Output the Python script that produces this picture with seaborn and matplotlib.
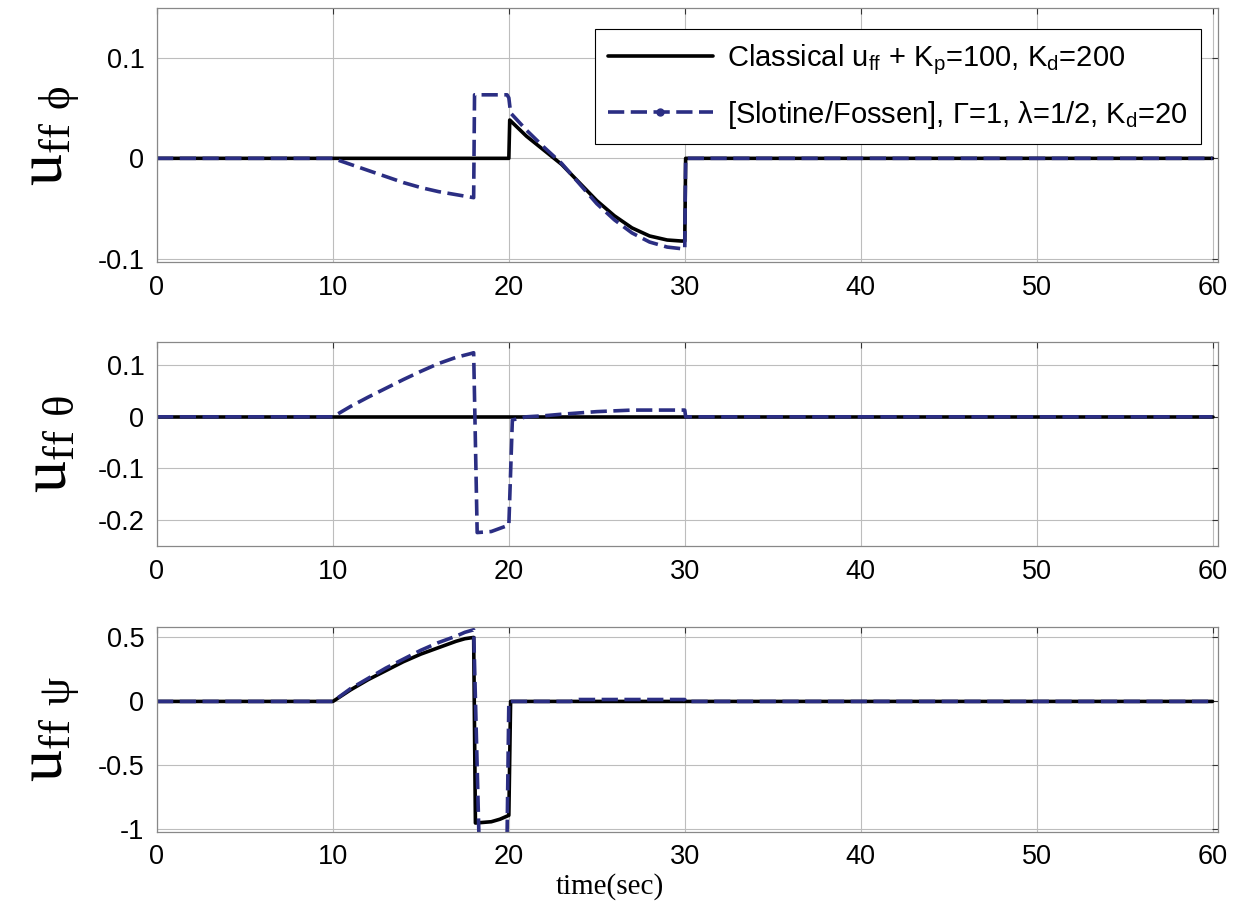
import numpy as np
import pandas as pd
import matplotlib
matplotlib.use("Agg")
import matplotlib.pyplot as plt
import seaborn as sns
from matplotlib.lines import Line2D

sns.set_style("white")
plt.rcParams['font.family'] = ['Liberation Sans', 'DejaVu Sans']
plt.rcParams['text.color'] = 'black'

# ---- data ----
# phi channel
phi_t_cl = [0, 20, 20.05, 21, 22, 23, 24, 25, 26, 27, 28, 29, 29.8, 30, 30.05, 60]
phi_cl = [0, 0, 0.038, 0.022, 0.008, -0.006, -0.024, -0.042, -0.057, -0.069, -0.077, -0.081, -0.082, -0.082, 0, 0]
phi_t_sf = [0, 10, 11, 12, 13, 14, 15, 16, 17, 18, 18.05, 19.9, 20, 20.1, 21, 22, 23, 24, 25, 26, 27, 28, 29, 30, 30.05, 60]
phi_sf = [0, 0, -0.006, -0.012, -0.018, -0.024, -0.029, -0.033, -0.036, -0.039, 0.063, 0.063, 0.06, 0.045,
          0.028, 0.011, -0.005, -0.025, -0.045, -0.061, -0.074, -0.083, -0.088, -0.09, 0, 0]

# theta channel
th_t_cl = [0, 60]
th_cl = [0, 0]
th_t_sf = [0, 10, 11, 12, 13, 14, 15, 16, 17, 17.8, 18, 18.2, 19, 19.8, 20, 20.2, 21, 22, 23, 25, 27, 30, 30.05, 60]
th_sf = [0, 0, 0.02, 0.038, 0.055, 0.072, 0.088, 0.103, 0.115, 0.122, 0.124, -0.224, -0.222, -0.212, -0.21,
         -0.006, 0, 0.002, 0.005, 0.01, 0.013, 0.013, 0, 0]

# psi channel
ps_t_cl = [0, 10, 11, 12, 13, 14, 15, 16, 17, 17.5, 18, 18.1, 19, 19.5, 20, 20.1, 60]
ps_cl = [0, 0, 0.09, 0.17, 0.24, 0.31, 0.37, 0.42, 0.47, 0.49, 0.5, -0.95, -0.94, -0.92, -0.89, 0, 0]
ps_t_sf = [0, 10, 11, 12, 13, 14, 15, 16, 17, 17.5, 18, 18.3, 19.9, 20, 23.5, 24, 30, 30.05, 60]
ps_sf = [0, 0, 0.1, 0.18, 0.26, 0.33, 0.4, 0.46, 0.51, 0.54, 0.56, -1.05, -1.05, 0, 0, 0.015, 0.015, 0, 0]

panels = [
    (phi_t_cl, phi_cl, phi_t_sf, phi_sf, r'$\mathregular{u_{ff\ ϕ}}$', (-0.103, 0.149), [-0.1, 0, 0.1], ['-0.1', '0', '0.1']),
    (th_t_cl, th_cl, th_t_sf, th_sf, r'$\mathregular{u_{ff\ θ}}$', (-0.25, 0.144), [-0.2, -0.1, 0, 0.1], ['-0.2', '-0.1', '0', '0.1']),
    (ps_t_cl, ps_cl, ps_t_sf, ps_sf, r'$\mathregular{u_{ff\ ψ}}$', (-1.02, 0.585), [-1, -0.5, 0, 0.5], ['-1', '-0.5', '0', '0.5']),
]

label_cl = r'Classical $\mathregular{u_{ff}}$ + $\mathregular{K_p}$=100, $\mathregular{K_d}$=200'
label_sf = r'[Slotine/Fossen], Γ=1, λ=1/2, $\mathregular{K_d}$=20'

blue = '#2B2E83'
dash = (4.5, 1.8)

fig = plt.figure(figsize=(12.48, 9.01), dpi=100)
boxes = [(0.1258, 0.709, 0.850, 0.282),
         (0.1258, 0.394, 0.850, 0.226),
         (0.1258, 0.0766, 0.850, 0.228)]

axes = []
for box, (tc, vc, ts, vs, ylab, ylim, yt, ytl) in zip(boxes, panels):
    ax = fig.add_axes(box)
    sns.lineplot(x=tc, y=vc, ax=ax, color='black', lw=2.6, estimator=None, sort=False)
    sns.lineplot(x=ts, y=vs, ax=ax, color=blue, lw=2.6, estimator=None, sort=False, dashes=False)
    ax.lines[-1].set_dashes(dash)
    ax.set_xlim(0, 60.3)
    ax.set_ylim(*ylim)
    ax.set_xticks(range(0, 61, 10))
    ax.set_yticks(yt)
    ax.set_yticklabels(ytl)
    ax.grid(True, color='#bdbdbd', lw=0.8)
    ax.tick_params(labelsize=19.5, labelcolor='black', direction='in', length=4, color='#333333', pad=9,
                   top=True, right=True)
    for s in ax.spines.values():
        s.set_color('#888888')
        s.set_linewidth(0.9)
    ax.set_ylabel(ylab, family=['Liberation Serif', 'DejaVu Serif'], fontsize=46, color='black')
    ax.yaxis.set_label_coords(-0.072, 0.5)
    axes.append(ax)

handles = [Line2D([], [], color='black', lw=2.6),
           Line2D([], [], color=blue, lw=2.6, linestyle=(0, dash), marker='o', markersize=5)]
leg = axes[0].legend(handles, [label_cl, label_sf], loc='upper right', bbox_to_anchor=(0.998, 0.975),
                     fontsize=21, frameon=True, fancybox=False, edgecolor='black', framealpha=1,
                     handlelength=3.6, numpoints=1, borderpad=0.45, labelspacing=0.75, handletextpad=0.5)
leg.get_frame().set_linewidth(0.8)

axes[2].set_xlabel('time(sec)', family=['Liberation Serif', 'DejaVu Serif'], fontsize=21, color='black')
axes[2].xaxis.set_label_coords(0.427, -0.2)

fig.savefig('out.png', dpi=100)
